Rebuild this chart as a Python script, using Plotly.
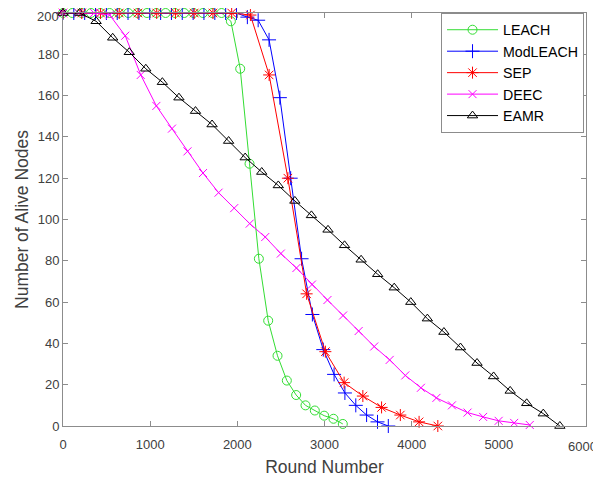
import plotly.graph_objects as go

# ---------------- data ----------------
leach_x = [i * 107 for i in range(31)]
leach_y = [200] * 18 + [196, 173, 127, 81, 51, 34, 22, 15, 10, 7.5, 5, 3.5, 1]

modleach_x = [round(i * 124.4) for i in range(31)]
modleach_y = [200] * 17 + [198, 196.5, 187, 159, 120, 81, 54, 37, 25, 16, 10, 5.3, 2, 0]

sep_x = [i * 215 for i in range(21)]
sep_y = [200] * 10 + [199, 170, 120, 64, 36, 21, 14.5, 9, 5.3, 2, 0]

deec_x = [round(i * 178.5) for i in range(31)]
deec_y = [200, 200, 200, 199, 189, 170, 155, 144, 133, 122.5, 113, 105.5, 98, 91.5,
          83.5, 76.5, 68.5, 61, 53.5, 46, 38.5, 32, 24.5, 18.5, 13.6, 10, 6.5, 4.4,
          2.5, 1.5, 0.5]

eamr_x = [i * 190 for i in range(31)]
eamr_y = [200, 200, 196, 188, 181, 173, 166.5, 159, 152.5, 146, 138, 130, 123, 116.5,
          109, 102, 95, 87.5, 80.5, 73.5, 67, 60, 52, 45.5, 38, 30.5, 24, 17, 11, 6, 0]

x_ticks = [0, 1000, 2000, 3000, 4000, 5000, 6000]
x_tick_labels = ["0", "1000", "2000", "3000", "4000", "5000", "6000"]
y_ticks = [0, 20, 40, 60, 80, 100, 120, 140, 160, 180, 200]
y_tick_labels = ["0", "20", "40", "60", "80", "100", "120", "140", "160", "180", "200"]

series = [
    ("LEACH", leach_x, leach_y, "#33dd33", "circle-open", 9),
    ("ModLEACH", modleach_x, modleach_y, "#0000ff", "cross-thin-open", 10),
    ("SEP", sep_x, sep_y, "#ff0000", "asterisk-open", 10),
    ("DEEC", deec_x, deec_y, "#ff00ff", "x-thin-open", 8),
    ("EAMR", eamr_x, eamr_y, "#000000", "triangle-up-open", 9),
]

fig = go.Figure()
for name, xs, ys, col, sym, sz in series:
    fig.add_trace(go.Scatter(
        x=xs, y=ys, name=name, mode="lines+markers",
        line=dict(color=col, width=1),
        marker=dict(symbol=sym, size=sz, color=col, line=dict(color=col, width=1)),
        cliponaxis=False,
    ))

TICK_FONT = dict(family="Liberation Sans, Arial", size=13, color="#404040")

axis_common = dict(
    showgrid=False, zeroline=False, showline=True, linecolor="#8c8c8c", linewidth=1,
    mirror="ticks", ticks="inside", ticklen=5, tickcolor="#8c8c8c",
    tickfont=TICK_FONT, automargin=False, ticklabeloverflow="allow",
)

# edge tick labels (which would overflow the figure) are drawn as annotations
fig.add_annotation(x=x_ticks[-1], y=0, xref="x", yref="y", text=x_tick_labels[-1],
                   showarrow=False, xanchor="center", yanchor="middle",
                   xshift=-4, yshift=-20, font=TICK_FONT)
fig.add_annotation(x=0, y=y_ticks[-1], xref="paper", yref="y", text=y_tick_labels[-1],
                   showarrow=False, xanchor="right", yanchor="middle",
                   xshift=-2, yshift=-3, font=TICK_FONT)

# the page body adds an 8px offset; margins compensate so the plot area lands
# where the reference has it inside the 601x478 window
fig.update_layout(
    width=601, height=478,
    margin=dict(l=55, r=23, t=5, b=60, autoexpand=False),
    paper_bgcolor="white", plot_bgcolor="white",
    font=dict(family="Liberation Sans, Arial", color="#404040"),
    xaxis=dict(range=[0, 6000], tickvals=x_ticks,
               ticktext=x_tick_labels[:-1] + [""], ticklabelstandoff=6,
               title=dict(text="Round Number", font=dict(size=17.5, color="#404040"), standoff=10),
               **axis_common),
    yaxis=dict(range=[0, 200], tickvals=y_ticks,
               ticktext=y_tick_labels[:-1] + [""], ticklabelstandoff=0,
               title=dict(text="Number of Alive Nodes", font=dict(size=17.5, color="#404040"), standoff=4),
               **axis_common),
    legend=dict(x=0.7228, y=1.0, xanchor="left", yanchor="top",
                bgcolor="white", bordercolor="#8c8c8c", borderwidth=1,
                font=dict(family="Liberation Sans, Arial", size=14.2, color="#000000"),
                tracegroupgap=0, itemwidth=51),
    showlegend=True,
)

fig.write_html("out.html")
